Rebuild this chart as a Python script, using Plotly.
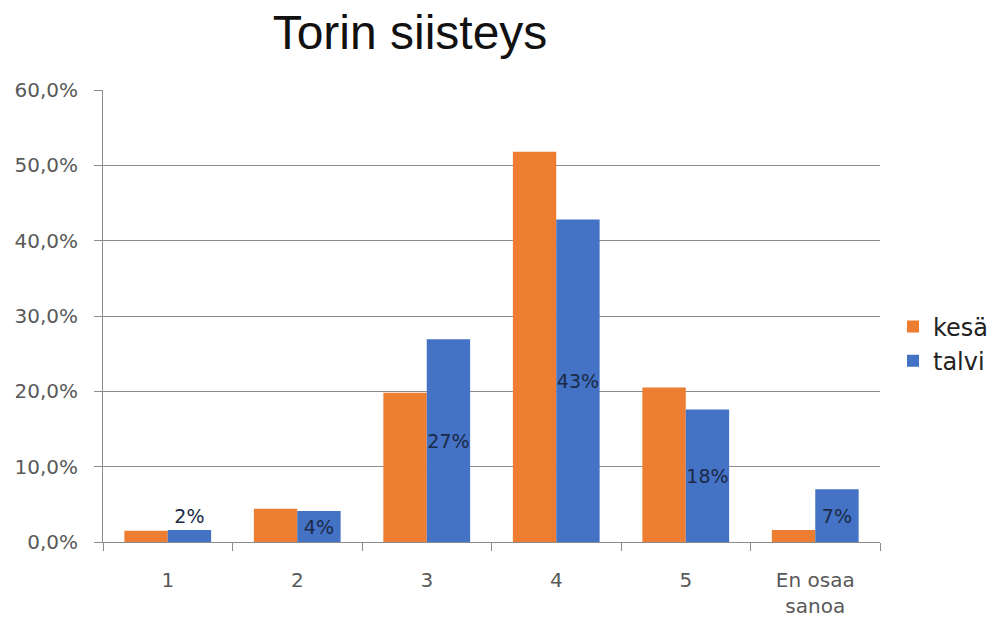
import plotly.graph_objects as go

# Survey: how clean is the market square, summer vs winter
categories = ["1", "2", "3", "4", "5", "En osaa<br>sanoa"]
kesa = [0.015, 0.044, 0.198, 0.518, 0.205, 0.016]
talvi = [0.016, 0.041, 0.269, 0.428, 0.176, 0.070]
y_ticks = [0.0, 0.1, 0.2, 0.3, 0.4, 0.5, 0.6]

ORANGE = "#ED7D31"
BLUE = "#4472C4"
GRID = "#8c8c8c"
TICK_FONT = dict(family="DejaVu Sans", size=20, color="#595959")
LABEL_FONT = dict(family="DejaVu Sans", size=19, color="#1b2a47")

fig = go.Figure()
fig.add_trace(go.Bar(
    name="kesä", x=categories, y=kesa,
    marker=dict(color=ORANGE, line=dict(width=0)),
))
fig.add_trace(go.Bar(
    name="talvi", x=categories, y=talvi,
    marker=dict(color=BLUE, line=dict(width=0)),
    texttemplate="%{y:.0%}",
    textposition="auto",
    textangle=0,
    insidetextanchor="middle",
    constraintext="none",
    textfont=LABEL_FONT,
    outsidetextfont=LABEL_FONT,
    insidetextfont=LABEL_FONT,
    cliponaxis=False,
))

fig.update_layout(
    width=1001, height=621,
    margin=dict(l=103, r=121, t=90, b=79, autoexpand=False),
    paper_bgcolor="white", plot_bgcolor="white",
    separators=", ",
    barmode="group", bargap=0.33, bargroupgap=0.0,
    title=dict(
        text="Torin siisteys",
        font=dict(family="Liberation Sans", size=48, color="#111111"),
        xref="container", x=410 / 1001, xanchor="center",
        yref="container", y=1 - 15 / 621, yanchor="top",
    ),
    legend=dict(
        xref="container", yref="container",
        x=893 / 1001, y=1 - 344 / 621, yanchor="middle", xanchor="left",
        font=dict(family="DejaVu Sans", size=24, color="#222222"),
        itemwidth=30, tracegroupgap=0,
        bgcolor="rgba(0,0,0,0)",
    ),
    showlegend=True,
)

fig.update_xaxes(
    showgrid=False, automargin=False,
    showline=True, linecolor=GRID, linewidth=1,
    ticks="outside", tickson="boundaries", ticklen=8, tickcolor=GRID,
    tickfont=TICK_FONT, ticklabelstandoff=20,
)
fig.update_yaxes(
    range=[0, 0.6], tickvals=y_ticks, tickformat=".1%",
    automargin=False,
    showgrid=True, gridcolor=GRID, gridwidth=1,
    showline=True, linecolor=GRID, linewidth=1,
    ticks="outside", ticklen=8, tickcolor=GRID,
    tickfont=TICK_FONT, ticklabelstandoff=12,
    zeroline=False,
)

fig.write_html("out.html")
